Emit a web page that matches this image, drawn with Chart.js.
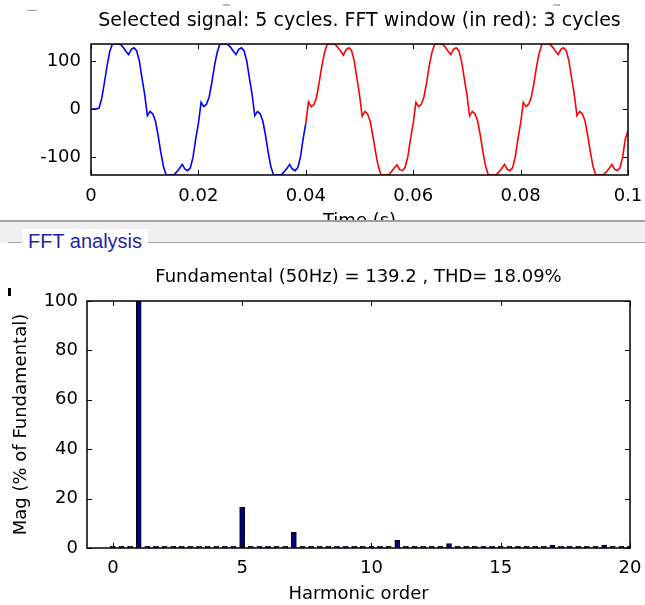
<!DOCTYPE html>
<html lang="en">
<head>
<meta charset="UTF-8">
<title>FFT analysis</title>
<script src="https://cdn.jsdelivr.net/npm/chart.js"></script>
<style>
    body {
        margin: 0;
        width: 645px;
        height: 605px;
        overflow: hidden;
        position: relative;
        background: #fff;
    }
    canvas { position: absolute; left: 0; }
    #signalChart { top: 0; }
    #fftChart { top: 250px; }
    .band {
        position: absolute; left: 0; top: 220px; width: 645px; height: 23px;
        background: #f0f0f0; border-top: 2px solid #a0a0a0; box-sizing: border-box; z-index: 2;
    }
    .groupline { position: absolute; left: 8px; top: 242px; width: 637px; height: 1px; background: #a0a0a0; z-index: 2; }
    .grouplabel {
        position: absolute; left: 22px; top: 229px; width: 126px; height: 24px;
        background: #fff; color: #1f1fb0; font: 20px 'Liberation Sans', Arial, sans-serif;
        line-height: 24px; text-align: center; z-index: 3;
    }
    .mark { position: absolute; z-index: 3; }
</style>
</head>
<body>
<canvas id="signalChart" width="645" height="240"></canvas>
<canvas id="fftChart" width="645" height="355"></canvas>
<div class="band"></div>
<div class="groupline"></div>
<div class="grouplabel">FFT analysis</div>
<div class="mark" style="left:27px;top:10px;width:10px;height:1px;background:#999"></div>
<div class="mark" style="left:223px;top:4px;width:7px;height:2px;background:#bbb"></div>
<div class="mark" style="left:553px;top:4px;width:7px;height:2px;background:#bbb"></div>
<div class="mark" style="left:8px;top:288px;width:3px;height:8px;background:#000"></div>

<script>
// time signal, sampled every 0.5 ms (5 cycles of 50 Hz)
const sampleStep = 0.0005;
const signalValues = [
    0, 0, 0, 2, 22, 55, 90, 120, 135, 135, 135, 134, 128, 120, 113, 124, 127, 121, 100, 64,
    30, -14, -5, -10, -25, -55, -90, -120, -137, -137, -137, -136, -130, -123, -115, -125, -128, -122, -100, -62,
    -30, 14, 5, 10, 25, 55, 90, 118, 135, 135, 135, 134, 128, 120, 113, 124, 127, 121, 100, 64,
    30, -14, -5, -10, -25, -55, -90, -120, -137, -137, -137, -136, -130, -123, -115, -125, -128, -122, -100, -62,
    -30, 15, 5, 9, 24, 56, 90, 118, 135, 135, 135, 134, 127, 120, 112, 123, 127, 122, 101, 65,
    30, -15, -5, -10, -26, -56, -90, -119, -137, -137, -137, -136, -129, -122, -116, -126, -128, -121, -99, -62,
    -30, 14, 5, 10, 25, 55, 91, 118, 135, 135, 135, 134, 128, 120, 113, 124, 127, 121, 100, 64,
    30, -14, -5, -10, -25, -55, -90, -120, -137, -137, -137, -136, -130, -123, -115, -125, -128, -122, -100, -62,
    -30, 14, 5, 10, 25, 55, 90, 118, 135, 135, 135, 134, 128, 120, 113, 124, 127, 121, 100, 64,
    30, -14, -5, -10, -25, -55, -90, -120, -137, -137, -137, -136, -130, -123, -115, -125, -128, -122, -100, -62,
    -45
];
const signalTime = signalValues.map((v, i) => +(i * sampleStep).toFixed(4));
const fftWindowStart = 0.04;
const timeTicks = [0, 0.02, 0.04, 0.06, 0.08, 0.1];
const signalTicks = [-100, 0, 100];

// FFT: resolution 1/3 harmonic (3-cycle window)
const harmonicOrder = Array.from({ length: 61 }, (_, i) => i / 3);
const harmonicMag = [
    0.7, 0.7, 0.7, 100, 0.7, 0.7, 0.7, 0.7, 0.7, 0.7, 0.7, 0.7, 0.7, 0.7, 0.7, 16.6,
    0.7, 0.7, 0.7, 0.7, 0.7, 6.3, 0.7, 0.7, 0.7, 0.7, 0.7, 0.7, 0.7, 0.7, 0.7,
    0.7, 0.7, 3.1, 0.7, 0.7, 0.7, 0.7, 0.7, 1.8, 0.7, 0.7, 0.7, 0.7, 0.7, 0.7,
    0.7, 0.7, 0.7, 0.7, 0.7, 1.2, 0.7, 0.7, 0.7, 0.7, 0.7, 1.2, 0.7, 0.7, 0.7
];
const harmonicTicks = [0, 5, 10, 15, 20];
const magTicks = [0, 20, 40, 60, 80, 100];

Chart.defaults.font.family = "'DejaVu Sans', sans-serif";
Chart.defaults.font.size = 18;
Chart.defaults.color = '#000';

// box with inward ticks + title centred over the plot, like a matlab axes
const matlabAxes = {
    id: 'matlabAxes',
    afterDraw(chart, args, opts) {
        const { ctx, chartArea: a, scales } = chart;
        const len = 5;
        ctx.save();
        ctx.strokeStyle = '#000';
        ctx.lineWidth = 1;
        ctx.beginPath();
        scales.x.ticks.forEach(t => {
            const px = Math.round(scales.x.getPixelForValue(t.value)) + 0.5;
            ctx.moveTo(px, a.bottom); ctx.lineTo(px, a.bottom - len);
            ctx.moveTo(px, a.top); ctx.lineTo(px, a.top + len);
        });
        scales.y.ticks.forEach(t => {
            const py = Math.round(scales.y.getPixelForValue(t.value)) + 0.5;
            ctx.moveTo(a.left, py); ctx.lineTo(a.left + len, py);
            ctx.moveTo(a.right, py); ctx.lineTo(a.right - len, py);
        });
        ctx.stroke();
        ctx.lineWidth = 1.5;
        ctx.strokeRect(a.left, a.top, a.right - a.left, a.bottom - a.top);

        ctx.fillStyle = '#000';
        ctx.font = opts.font;
        ctx.textAlign = 'center';
        ctx.textBaseline = 'middle';
        ctx.fillText(opts.title, (a.left + a.right) / 2, opts.titleY);
        ctx.restore();
    }
};

// fixed axis box, no extra room for overhanging end labels
const fixHeight = h => s => { s.height = h; s.paddingLeft = 0; s.paddingRight = 0; };

new Chart(document.getElementById('signalChart'), {
    type: 'line',
    data: {
        datasets: [{
            data: signalTime.map((t, i) => ({ x: t, y: signalValues[i] })),
            borderColor: '#0000ff',
            borderWidth: 1.6,
            pointRadius: 0,
            tension: 0,
            segment: {
                borderColor: c => c.p0.parsed.x >= fftWindowStart - 1e-9 ? '#ff0000' : '#0000ff'
            }
        }]
    },
    options: {
        responsive: false,
        animation: false,
        layout: { padding: { top: 44, right: 17, left: 0, bottom: 0 } },
        plugins: {
            legend: { display: false },
            tooltip: { enabled: false },
            matlabAxes: {
                title: 'Selected signal: 5 cycles. FFT window (in red): 3 cycles',
                titleY: 21,
                font: "19px 'DejaVu Sans', sans-serif"
            }
        },
        scales: {
            x: {
                type: 'linear', min: 0, max: 0.1,
                afterBuildTicks: s => { s.ticks = timeTicks.map(v => ({ value: v })); },
                afterFit: fixHeight(65),
                grid: { display: false, drawTicks: false },
                border: { display: false },
                ticks: { padding: 11, maxRotation: 0, autoSkip: false, callback: v => String(v) },
                title: { display: true, text: 'Time (s)', padding: { top: 0, bottom: 8 } }
            },
            y: {
                min: -137, max: 135,
                afterBuildTicks: s => { s.ticks = signalTicks.map(v => ({ value: v })); },
                afterFit: s => { s.width = 91; },
                grid: { display: false, drawTicks: false },
                border: { display: false },
                ticks: { padding: 10 }
            }
        }
    },
    plugins: [matlabAxes]
});

new Chart(document.getElementById('fftChart'), {
    type: 'bar',
    data: {
        datasets: [{
            data: harmonicOrder.map((h, i) => ({ x: h, y: harmonicMag[i] })),
            backgroundColor: '#000080',
            borderColor: '#000',
            borderWidth: 1,
            borderSkipped: false,
            barThickness: 5
        }]
    },
    options: {
        responsive: false,
        animation: false,
        layout: { padding: { top: 51, right: 15, left: 0, bottom: 0 } },
        plugins: {
            legend: { display: false },
            tooltip: { enabled: false },
            matlabAxes: {
                title: 'Fundamental (50Hz) = 139.2 , THD= 18.09%',
                titleY: 27,
                font: "18px 'DejaVu Sans', sans-serif"
            }
        },
        scales: {
            x: {
                type: 'linear', min: -1, max: 20, offset: false,
                afterBuildTicks: s => { s.ticks = harmonicTicks.map(v => ({ value: v })); },
                afterFit: fixHeight(57),
                grid: { display: false, drawTicks: false },
                border: { display: false },
                ticks: { padding: 10, maxRotation: 0, autoSkip: false },
                title: { display: true, text: 'Harmonic order', padding: { top: 0, bottom: 0 } }
            },
            y: {
                min: 0, max: 100,
                afterBuildTicks: s => { s.ticks = magTicks.map(v => ({ value: v })); },
                afterFit: s => { s.width = 87; },
                grid: { display: false, drawTicks: false },
                border: { display: false },
                ticks: { padding: 9 },
                title: { display: true, text: 'Mag (% of Fundamental)', padding: { top: 11, bottom: 0 } }
            }
        }
    },
    plugins: [matlabAxes]
});
</script>
</body>
</html>
